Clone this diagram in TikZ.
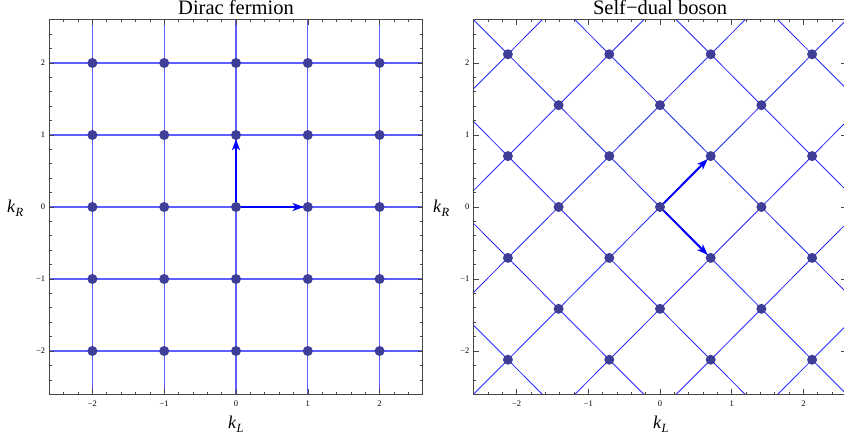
\documentclass[tikz,border=0pt]{standalone}
\usepackage{fontspec}
\setmainfont{Liberation Serif}
\usetikzlibrary{arrows.meta}
\definecolor{dotc}{RGB}{62,62,150}
\definecolor{gridc}{RGB}{95,95,255}
\definecolor{gridd}{RGB}{40,40,255}
\definecolor{framec}{RGB}{70,70,70}
\tikzset{
 latdot/.style={circle, fill=dotc, inner sep=0pt, minimum size=10pt},
 gridline/.style={color=gridc, line width=1.05pt},
 diagline/.style={color=gridd, line width=0.85pt},
 basisarrow/.style={color=blue, line width=2pt, shorten >=-1pt, -{Stealth[length=11pt,width=8pt,inset=3pt]}},
 frameline/.style={color=framec, line width=0.9pt},
 tickline/.style={color=framec, line width=0.6pt},
 ticklab/.style={font=\fontsize{8.5}{9}\selectfont, inner sep=0pt},
 titlelab/.style={font=\fontsize{20.5}{22}\selectfont, anchor=base, inner sep=0pt},
 axlab/.style={font=\fontsize{18}{20}\selectfont, inner sep=0pt, anchor=base west}
}
\newcommand{\kvar}[1]{\textit{k}\kern0.2pt\raisebox{-4pt}{\fontsize{12.5}{13}\selectfont\textit{#1}}}
\newcommand{\tickset}{%
 \foreach \i in {-12,...,12} {
  \pgfmathsetmacro\t{\i/5}
  \pgfmathparse{mod(\i,5)==0 ? 5 : 2.5}\let\len\pgfmathresult
  \draw[tickline] (\t,-2.6) -- ++(0,\len pt);
  \draw[tickline] (\t,2.6) -- ++(0,-\len pt);
  \draw[tickline] (-2.6,\t) -- ++(\len pt,0);
  \draw[tickline] (2.6,\t) -- ++(-\len pt,0);
 }
 \draw[frameline] (-2.6,-2.6) rectangle (2.6,2.6);
}
\begin{document}
\begin{tikzpicture}
\useasboundingbox (0,0) rectangle (844pt,437pt);
% titles and axis labels
\node[titlelab] (t1) at (236pt,422pt) {Dirac fermion};
\node[titlelab] (t2) at (660pt,422pt) {Self−dual boson};
\node[axlab] (kl1) at (228pt,9pt) {\kvar{L}};
\node[axlab] (kl2) at (653pt,9pt) {\kvar{L}};
\node[axlab] (kr1) at (7pt,224pt) {\kvar{R}};
\node[axlab] (kr2) at (433pt,224pt) {\kvar{R}};
% left panel
\begin{scope}[shift={(236pt,230pt)}, x=71.8pt, y=72pt]
 \foreach \v in {-2,...,2} {
  \draw[gridline] (\v,-2.6) -- (\v,2.6);
 }
 \foreach \v in {-2,...,2} {
  \draw[gridline] (-2.6,\v) -- (2.6,\v);
 }
 \tickset
 \foreach \v/\s [count=\n] in {-2/−2,-1/−1,0/0,1/1,2/2} {
  \node[ticklab, anchor=north] (lx\n) at ([yshift=-6pt]\v,-2.6) {\s};
  \node[ticklab, anchor=east] (ly\n) at ([xshift=-4pt]-2.6,\v) {\s};
 }
 \foreach \i in {0,...,4} \foreach \j in {0,...,4}
  \node[latdot] (L\i\j) at (\i-2,\j-2) {};
 \draw[basisarrow] (L22) -- (L32);
 \draw[basisarrow] (L22) -- (L23);
\end{scope}
% right panel
\begin{scope}[shift={(660pt,230pt)}, x=71.7pt, y=72pt]
 \begin{scope}
  \clip (-2.6,-2.6) rectangle (2.6,2.6);
  \foreach \k in {-3,...,3} {
   \draw[diagline] (-3,{\k*1.41421+3}) -- (3,{\k*1.41421-3});
  }
  \foreach \k in {-3,...,3} {
   \draw[diagline] (-3,{-3-\k*1.41421}) -- (3,{3-\k*1.41421});
  }
 \end{scope}
 \tickset
 \foreach \v/\s [count=\n] in {-2/−2,-1/−1,0/0,1/1,2/2} {
  \node[ticklab, anchor=north] (rx\n) at ([yshift=-6pt]\v,-2.6) {\s};
  \node[ticklab, anchor=east] (ry\n) at ([xshift=-4pt]-2.6,\v) {\s};
 }
 \foreach \a in {0,...,6} \foreach \b in {0,...,6} {
  \pgfmathtruncatemacro\p{mod(\a+\b,2)}
  \ifnum\p=0
   \node[latdot] (R\a\b) at ({(\a-3)*0.70711},{(\b-3)*0.70711}) {};
  \fi
 }
 \draw[basisarrow] (R33) -- (R44);
 \draw[basisarrow] (R33) -- (R42);
\end{scope}
\end{tikzpicture}
\end{document}
